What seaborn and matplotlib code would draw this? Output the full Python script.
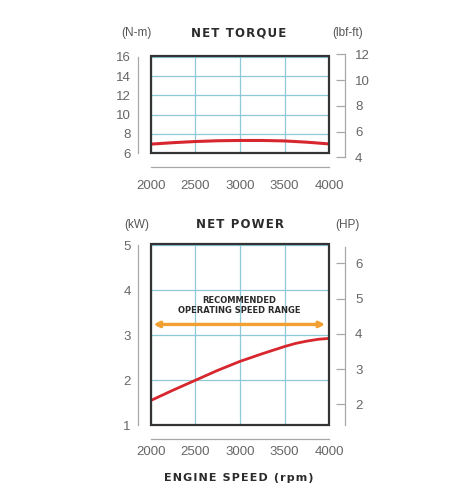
import matplotlib
matplotlib.use("Agg")
import matplotlib.pyplot as plt
from matplotlib.patches import Rectangle
import seaborn as sns

# dati
torque_rpm = [2000, 2250, 2500, 2750, 3000, 3250, 3500, 3750, 4000]
torque_nm = [6.95, 7.10, 7.22, 7.30, 7.33, 7.33, 7.28, 7.15, 6.97]
power_rpm = [2000, 2250, 2500, 2750, 3000, 3250, 3375, 3500, 3625, 3750, 3875, 4000]
power_kw = [1.55, 1.78, 2.00, 2.22, 2.42, 2.59, 2.67, 2.75, 2.82, 2.87, 2.91, 2.93]

rpm_ticks = [2000, 2500, 3000, 3500, 4000]
torque_nm_ticks = [6, 8, 10, 12, 14, 16]
torque_lbf_ticks = [4, 6, 8, 10, 12]
power_kw_ticks = [1, 2, 3, 4, 5]
power_hp_ticks = [2, 3, 4, 5, 6]

speed_range = [2030, 3955]
speed_range_kw = 3.24
speed_range_label = "RECOMMENDED\nOPERATING SPEED RANGE"

RED = "#d7262e"
ORANGE = "#f2a033"
GRID = "#8fc8d8"
FRAME = "#333333"
SPINE = "#a8a8a8"
LABEL = "#666666"
DARK = "#2b2b2b"

sns.set_style("white")
plt.rcParams["font.family"] = ["Liberation Sans", "DejaVu Sans"]

W, H = 473, 500
fig = plt.figure(figsize=(W / 100, H / 100), dpi=100)


def frac(x0, y0, x1, y1):
    # pixel (dall'alto) -> frazioni della figura
    return [x0 / W, 1 - y1 / H, (x1 - x0) / W, (y1 - y0) / H]


def spaced(s):
    return "\u200a".join(s)


def style_main(ax, yticks, ylim, x_pad):
    ax.set_xlim(2000, 4000)
    ax.set_ylim(*ylim)
    ax.set_xticks(rpm_ticks)
    ax.set_yticks(yticks)
    ax.grid(True, color=GRID, lw=0.9)
    ax.set_xlabel("")
    ax.set_ylabel("")
    for s in ["top", "right"]:
        ax.spines[s].set_visible(False)
    ax.spines["left"].set_position(("outward", 9.4))
    ax.spines["bottom"].set_position(("outward", 10))
    ax.spines["left"].set_bounds(yticks[0], yticks[-1])
    for s in ["left", "bottom"]:
        ax.spines[s].set_color(SPINE)
        ax.spines[s].set_linewidth(0.9)
    ax.tick_params(direction="in", length=3, width=0.9, color=SPINE,
                   labelcolor=LABEL, labelsize=9.5)
    ax.tick_params(axis="x", pad=x_pad)
    ax.tick_params(axis="y", pad=5)
    ax.add_patch(Rectangle((0, 0), 1, 1, transform=ax.transAxes, fill=False,
                           ec=FRAME, lw=1.6, clip_on=False, zorder=5))


def style_right(rax, yticks, ylim, bounds):
    rax.patch.set_visible(False)
    rax.set_ylim(*ylim)
    rax.set_yticks(yticks)
    rax.xaxis.set_visible(False)
    for s in ["top", "left", "bottom"]:
        rax.spines[s].set_visible(False)
    rax.yaxis.tick_right()
    rax.spines["right"].set_position(("outward", 11.5))
    rax.spines["right"].set_bounds(*bounds)
    rax.spines["right"].set_color(SPINE)
    rax.spines["right"].set_linewidth(0.9)
    rax.tick_params(axis="y", direction="in", length=6.5, width=0.9,
                    color=SPINE, labelcolor=LABEL, labelsize=9.5, pad=7)


# coppia netta
ax1 = fig.add_axes(frac(150.7, 56, 329.3, 153.3))
sns.lineplot(x=torque_rpm, y=torque_nm, ax=ax1, color=RED, lw=2.2)
style_main(ax1, torque_nm_ticks, (6, 16.08), 9)

rax1 = fig.add_axes(frac(150.7, 54.3, 329.3, 157.3))
style_right(rax1, torque_lbf_ticks, (4, 12), (4, 12))

# potenza netta
ax2 = fig.add_axes(frac(150.7, 244.3, 329.3, 425.3))
sns.lineplot(x=power_rpm, y=power_kw, ax=ax2, color=RED, lw=2.0)
style_main(ax2, power_kw_ticks, (1, 5.02), 5)
ax2.annotate("", xy=(speed_range[1], speed_range_kw),
             xytext=(speed_range[0], speed_range_kw),
             arrowprops=dict(arrowstyle="<|-|>", color=ORANGE, lw=2.4,
                             mutation_scale=8, shrinkA=0, shrinkB=0))
ax2.text(sum(speed_range) / 2, 3.67, speed_range_label, ha="center",
         va="center", fontsize=6, fontweight="bold", color=DARK,
         linespacing=1.15, family="DejaVu Sans")

rax2 = fig.add_axes(frac(150.7, 244.3, 329.3, 425.3))
style_right(rax2, power_hp_ticks, (1.404, 6.54), (1.404, 6.46))


# titoli e unita'
def ftext(x, y, s, **kw):
    fig.text(x / W, 1 - y / H, s, ha="center", va="center", **kw)


ftext(238.5, 33.3, spaced("NET TORQUE"), fontsize=8.5, fontweight="bold",
      color=DARK, family="DejaVu Sans")
ftext(136, 33, "(N-m)", fontsize=8.5, color="#555555")
ftext(347.5, 33, "(lbf-ft)", fontsize=8.5, color="#555555")
ftext(240, 225, spaced("NET POWER"), fontsize=8.5, fontweight="bold",
      color=DARK, family="DejaVu Sans")
ftext(136.5, 225, "(kW)", fontsize=8.5, color="#555555")
ftext(347, 225, "(HP)", fontsize=8.5, color="#555555")
ftext(239, 478, spaced("ENGINE SPEED (rpm)"), fontsize=8, fontweight="bold",
      color=DARK, family="DejaVu Sans")

fig.savefig("out.png", dpi=100)
